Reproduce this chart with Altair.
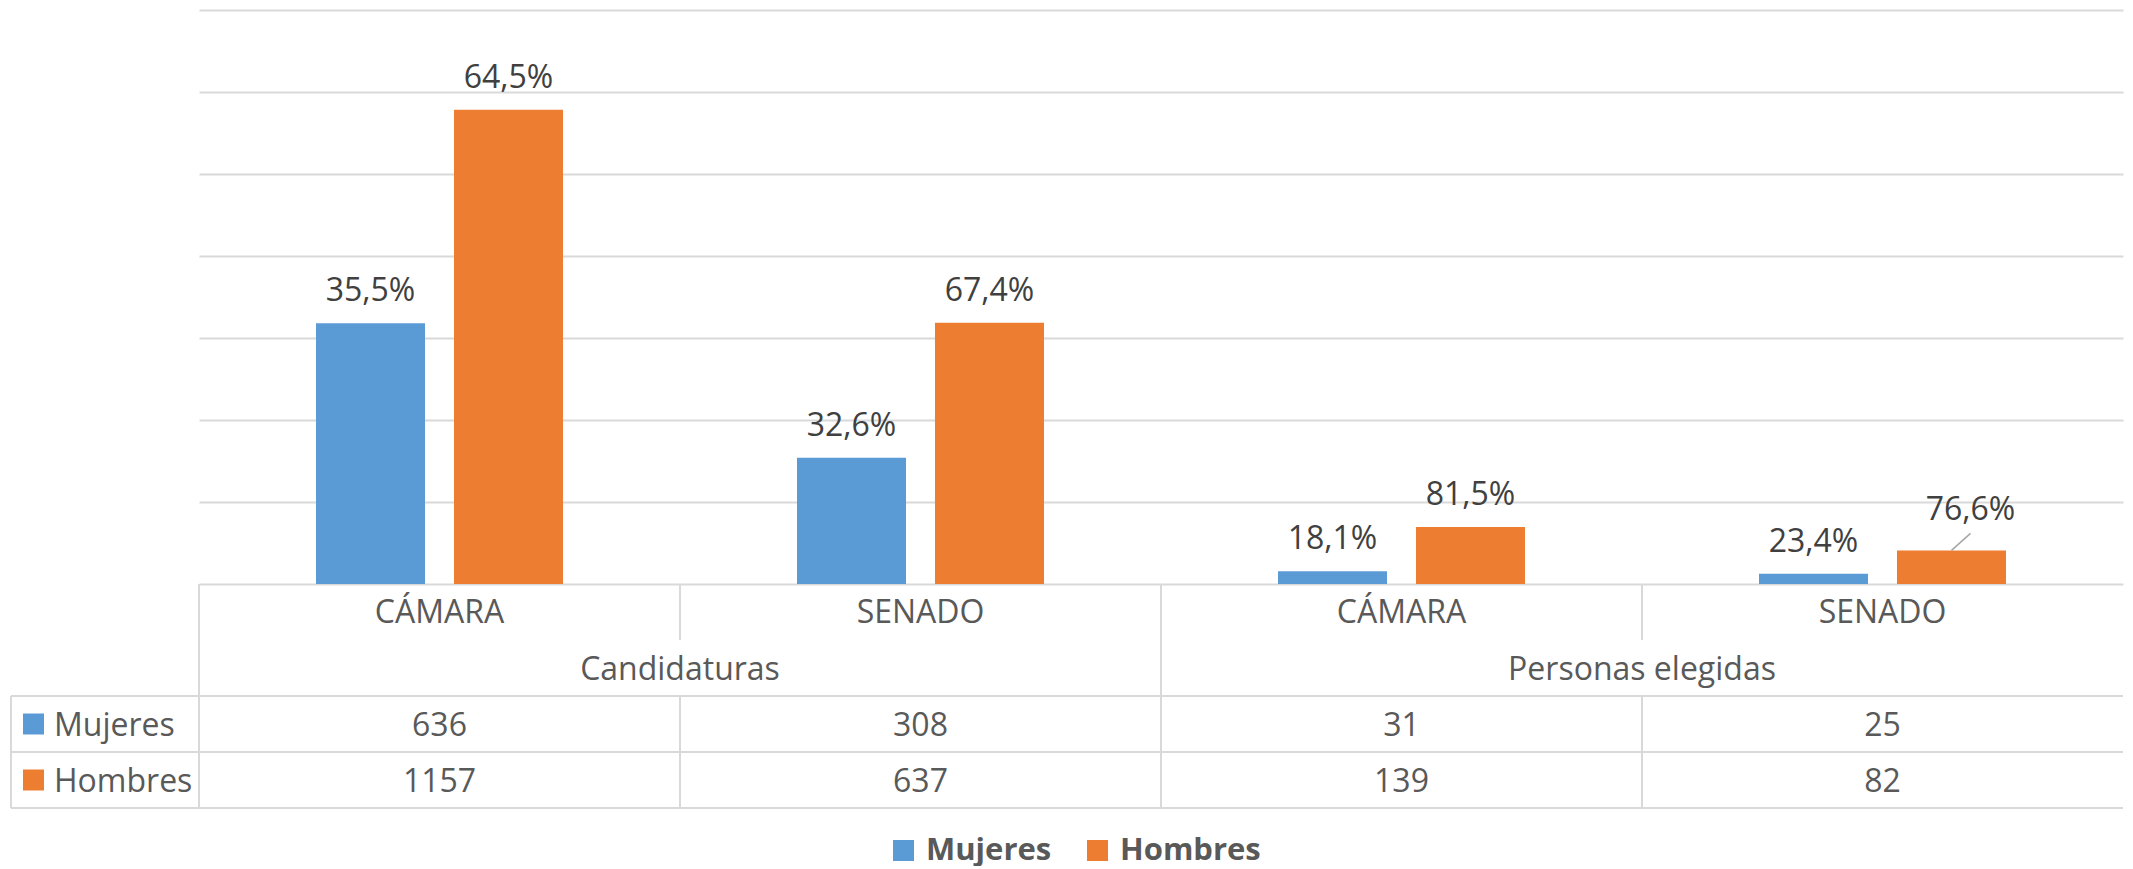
import altair as alt
import pandas as pd

# ---- data ----
groups = ["Candidaturas", "Candidaturas", "Personas elegidas", "Personas elegidas"]
cats = ["CÁMARA", "SENADO", "CÁMARA", "SENADO"]
mujeres = [636, 308, 31, 25]
hombres = [1157, 637, 139, 82]
pct_mujeres = [35.5, 32.6, 18.1, 23.4]
pct_hombres = [64.5, 67.4, 81.5, 76.6]
sexos = ["Mujeres", "Hombres"]
colors = ["#5B9BD5", "#ED7D31"]
grid_values = [0, 200, 400, 600, 800, 1000, 1200, 1400]
group_names = ["Candidaturas", "Personas elegidas"]

keys = [g + "|" + c for g, c in zip(groups, cats)]

records = []
for i, k in enumerate(keys):
    for s, vals, pcts, r in (("Mujeres", mujeres, pct_mujeres, 2),
                             ("Hombres", hombres, pct_hombres, 3)):
        records.append(dict(key=k, sexo=s, count=vals[i],
                            label=f"{pcts[i]:.1f}%".replace(".", ","), row=r))
df = pd.DataFrame(records)

cat_df = pd.DataFrame(dict(key=keys, cat=cats, row=[0] * 4))
grp_df = pd.DataFrame(dict(key=[keys[0], keys[2]], group=group_names, row=[1, 1]))
side_df = pd.DataFrame(dict(sexo=sexos, row=[2, 3]))
hline_df = pd.DataFrame(dict(r=[1.5, 2.5, 3.5]))
vline_df = pd.DataFrame(dict(
    key=[keys[0], keys[1], keys[1], keys[2], keys[3], keys[3]],
    r1=[-0.5, -0.5, 1.5, -0.5, -0.5, 1.5],
    r2=[3.5, 0.5, 3.5, 3.5, 0.5, 3.5],
))
ledge_df = pd.DataFrame(dict(r1=[1.5], r2=[3.5]))

# ---- styling ----
W, H = 1924, 574
FONT = "Open Sans"
GRID = "#d9d9d9"
TXT = "#595959"

xscale = alt.Scale(domain=keys, paddingInner=0, paddingOuter=0)
yscale = alt.Scale(domain=[0, 1400], nice=False, zero=True)
tscale = alt.Scale(domain=[-0.5, 3.5], range=[574, 798], nice=False, zero=False)
cscale = alt.Scale(domain=sexos, range=colors)
oscale = alt.Scale(domain=sexos, paddingInner=0.21, paddingOuter=0.848)

legend = alt.Legend(orient="none", legendX=689, legendY=825, direction="horizontal",
                    title=None, symbolType="square", symbolSize=441,
                    symbolStrokeWidth=0, labelFont=FONT, labelFontSize=31,
                    labelFontWeight="bold", labelColor=TXT, labelOffset=7,
                    columnPadding=30, gridAlign="none")

X = alt.X("key:N", scale=xscale, axis=None)
XO = alt.XOffset("sexo:N", scale=oscale)
Yc = alt.Y("count:Q", scale=yscale, axis=None)
C = alt.Color("sexo:N", scale=cscale, legend=legend)

moved = f"datum.key == '{keys[3]}' && datum.sexo == 'Hombres'"

base = alt.Chart(df)

bars = base.mark_bar().encode(
    x=X, xOffset=XO,
    y=alt.Y("count:Q", scale=yscale,
            axis=alt.Axis(values=grid_values, labels=False, ticks=False, domain=False,
                          grid=True, gridColor=GRID, gridWidth=2, title=None,
                          minExtent=0, maxExtent=0)),
    color=C,
)

labels = base.transform_filter(f"!({moved})").mark_text(
    font=FONT, fontSize=32, color="#404040", baseline="alphabetic", dy=-22
).encode(x=X, xOffset=XO, y=Yc, text="label:N")

moved_label = base.transform_filter(moved).mark_text(
    font=FONT, fontSize=32, color="#404040", baseline="alphabetic", dx=19, dy=-30
).encode(x=X, xOffset=XO, y=Yc, text="label:N")

leader = base.transform_filter(moved).mark_rule(
    color="#a6a6a6", strokeWidth=1.5, xOffset=69, x2Offset=88, y2Offset=-17
).encode(
    x=alt.X("key:N", scale=xscale, axis=None, bandPosition=0.5),
    x2=alt.X2("key:N", bandPosition=0.5),
    y=Yc, y2=alt.Y2("count:Q"),
)

Yt = lambda f: alt.Y(f, scale=tscale, axis=None)

hlines = alt.Chart(hline_df).mark_rule(color=GRID, strokeWidth=2).encode(
    y=Yt("r:Q"), x=alt.value(-188), x2=alt.value(W)
)
vlines = alt.Chart(vline_df).mark_rule(color=GRID, strokeWidth=2).encode(
    x=alt.X("key:N", scale=xscale, axis=None, bandPosition=0),
    y=Yt("r1:Q"), y2="r2:Q",
)
ledge = alt.Chart(ledge_df).mark_rule(color=GRID, strokeWidth=2).encode(
    x=alt.value(-188), y=Yt("r1:Q"), y2="r2:Q"
)

cat_text = alt.Chart(cat_df).mark_text(
    font=FONT, fontSize=32, color=TXT, baseline="middle", dy=1
).encode(x=X, y=Yt("row:Q"), text="cat:N")

grp_text = alt.Chart(grp_df).mark_text(
    font=FONT, fontSize=32, color=TXT, baseline="middle", dy=2
).encode(x=alt.X("key:N", scale=xscale, axis=None, bandPosition=1),
         y=Yt("row:Q"), text="group:N")

count_text = base.mark_text(
    font=FONT, fontSize=32, color=TXT, baseline="middle", dy=2
).encode(x=X, y=Yt("row:Q"), text="count:Q")

side_text = alt.Chart(side_df).mark_text(
    font=FONT, fontSize=32, color=TXT, baseline="middle", align="left", dy=2
).encode(x=alt.value(-145), y=Yt("row:Q"), text="sexo:N")

swatches = alt.Chart(side_df).mark_square(size=441, opacity=1).encode(
    x=alt.value(-165.5), y=Yt("row:Q"), color=C
)

chart = alt.layer(
    hlines, vlines, ledge, bars, labels, moved_label, leader,
    cat_text, grp_text, count_text, side_text, swatches
).resolve_scale(y="independent").properties(
    width=W, height=H,
    padding={"left": 2, "top": 2, "right": 0, "bottom": 0},
    background="white",
).configure_view(stroke=None)

chart.save("out.html", embed_options={"renderer": "svg", "actions": False})
